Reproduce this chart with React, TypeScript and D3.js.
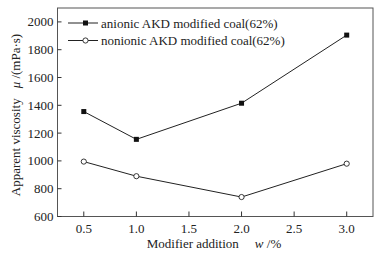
import React from "react";
import * as d3 from "d3";

const xValues = [0.5, 1.0, 2.0, 3.0];
const anionic = [1355, 1155, 1415, 1905];
const nonionic = [995, 890, 740, 980];
const xTicks = [0.5, 1.0, 1.5, 2.0, 2.5, 3.0];
const yTicks = [600, 800, 1000, 1200, 1400, 1600, 1800, 2000];
const seriesNames = ["anionic AKD modified coal(62%)", "nonionic AKD modified coal(62%)"];

const W = 382, H = 255;
const L = 57.5, R = 373, T = 8, B = 216.5;
const font = "'Liberation Serif', 'Times New Roman', serif";

export default function App() {
  const x = d3.scaleLinear().domain([0.25, 3.25]).range([L, R]);
  const y = d3.scaleLinear().domain([600, 2100]).range([B, T]);
  const line = d3.line<number>().x((_, i) => x(xValues[i])).y((d) => y(d));
  const stroke = "#222";
  return (
    <svg width={W} height={H} style={{ position: "absolute", left: 0, top: 0, background: "#fff" }} fontFamily={font}>
      <rect x={L} y={T} width={R - L} height={B - T} fill="none" stroke="#555" strokeWidth={1} />
      {xTicks.map((t) => (
        <g key={t}>
          <line x1={x(t)} x2={x(t)} y1={B} y2={B - 5} stroke="#333" />
          <text x={x(t)} y={B + 16} fontSize={13} textAnchor="middle" fill="#222">{t.toFixed(1)}</text>
        </g>
      ))}
      {yTicks.map((t) => (
        <g key={t}>
          <line x1={L} x2={L + 4} y1={y(t)} y2={y(t)} stroke="#333" />
          <text x={L - 4} y={y(t) + 4.5} fontSize={13} textAnchor="end" fill="#222">{t}</text>
        </g>
      ))}
      <path d={line(anionic) || ""} fill="none" stroke={stroke} strokeWidth={1} />
      <path d={line(nonionic) || ""} fill="none" stroke={stroke} strokeWidth={1} />
      {anionic.map((v, i) => (
        <rect key={i} x={x(xValues[i]) - 2.5} y={y(v) - 2.5} width={5} height={5} fill="#111" />
      ))}
      {nonionic.map((v, i) => (
        <circle key={i} cx={x(xValues[i])} cy={y(v)} r={2.6} fill="#fff" stroke="#222" strokeWidth={0.9} />
      ))}
      {/* legend */}
      <g>
        <line x1={68} x2={98} y1={23} y2={23} stroke={stroke} />
        <rect x={83} y={20.5} width={5} height={5} fill="#111" />
        <text x={101} y={27.5} fontSize={13} fill="#222">{seriesNames[0]}</text>
        <line x1={68} x2={98} y1={40.5} y2={40.5} stroke={stroke} />
        <circle cx={85.5} cy={40.5} r={2.6} fill="#fff" stroke="#222" strokeWidth={0.9} />
        <text x={101} y={45} fontSize={13} fill="#222">{seriesNames[1]}</text>
      </g>
      {/* y label */}
      <text transform={`translate(20,115) rotate(-90)`} fontSize={13} fill="#222" textAnchor="middle">
        <tspan>Apparent viscosity</tspan>
        <tspan dx={10} fontStyle="italic">μ</tspan>
        <tspan> /(mPa·s)</tspan>
      </text>
      {/* x label */}
      <text x={214} y={248} fontSize={13} fill="#222" textAnchor="middle">
        <tspan>Modifier addition</tspan>
        <tspan dx={16} fontStyle="italic">w</tspan>
        <tspan> /%</tspan>
      </text>
    </svg>
  );
}
